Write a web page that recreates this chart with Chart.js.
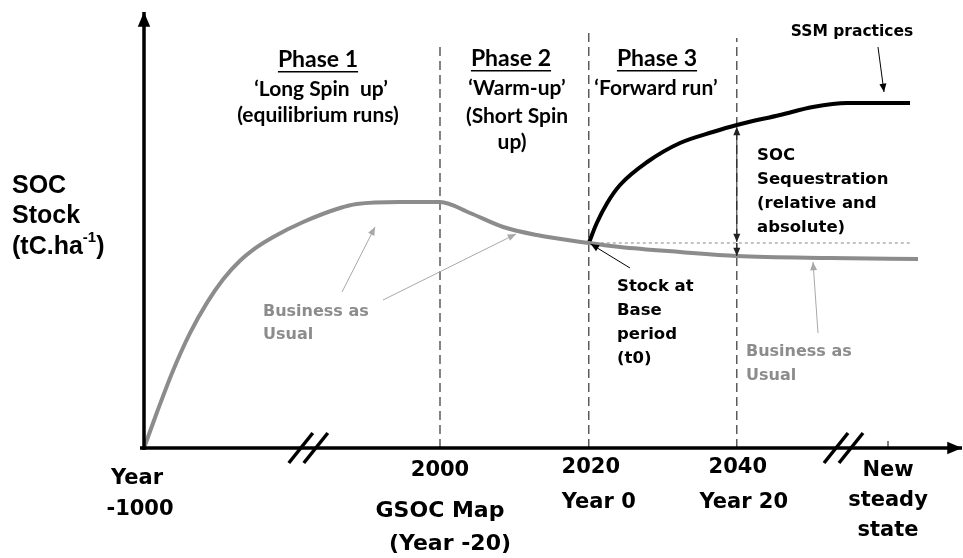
<!DOCTYPE html>
<html>
<head>
<meta charset="utf-8">
<script src="https://cdn.jsdelivr.net/npm/chart.js@4.4.1/dist/chart.umd.min.js"></script>
<style>
  html, body { margin: 0; padding: 0; background: #fff; }
  #wrap { width: 963px; height: 558px; }
</style>
</head>
<body>
<div id="wrap"><canvas id="myChart"></canvas></div>
<script>
// timeline units: 0 = Year -1000 ... ~96 = new steady state
const bauX = [0, 1.6, 3.6, 5.75, 7.9, 9.9, 12, 14.1, 16.1, 19.9, 24.5, 26.6, 32, 37, 40.75, 44.9, 49.1, 55.6, 59.5, 67, 74.1, 85.75, 96.75];
const bauY = [0, 8.8, 19.2, 28.7, 36.4, 42.2, 46.8, 50.2, 52.7, 56.5, 60, 61, 61.5, 61.5, 58.75, 55.25, 53.25, 51.25, 50.25, 49, 48, 47.5, 47.25];
const ssmX = [55.6, 56.6, 57.9, 59.5, 62.9, 67, 71.1, 74.1, 79.5, 83.6, 87.9, 95.75];
const ssmY = [51.25, 56.25, 61.25, 65.75, 71.5, 76.25, 79, 80.75, 83.25, 85.25, 86.25, 86.25];

// phase boundaries (2000, 2020, 2040) and top of their dashed lines
const phaseX = [37, 55.6, 74.1];
const phaseTop = [100.5, 105, 102.5];
const baseStock = 51.25;

const tickX = [0, 37, 55.6, 74.1, 93];
const tickLabels = [
  ['Year', '-1000'],
  ['2000', 'GSOC Map', '(Year -20)'],
  ['2020', 'Year 0'],
  ['2040', 'Year 20'],
  ['New', 'steady', 'state']
];
const breakX = [19.6, 86.5];

const GREY = '#8c8c8c';
const GOTHIC = '"DejaVu Sans"';

function toPoints(xs, ys) {
  return xs.map((x, i) => ({x: x, y: ys[i]}));
}

function arrow(ctx, x1, y1, x2, y2, opt) {
  const o = Object.assign({color: '#000', width: 1, head: 8, start: false, end: true}, opt);
  ctx.save();
  ctx.strokeStyle = o.color;
  ctx.fillStyle = o.color;
  ctx.lineWidth = o.width;
  ctx.beginPath();
  ctx.moveTo(x1, y1);
  ctx.lineTo(x2, y2);
  ctx.stroke();
  const heads = [];
  if (o.end) heads.push([x2, y2, Math.atan2(y2 - y1, x2 - x1)]);
  if (o.start) heads.push([x1, y1, Math.atan2(y1 - y2, x1 - x2)]);
  for (const [hx, hy, a] of heads) {
    ctx.beginPath();
    ctx.moveTo(hx, hy);
    ctx.lineTo(hx - o.head * Math.cos(a - 0.4), hy - o.head * Math.sin(a - 0.4));
    ctx.lineTo(hx - o.head * Math.cos(a + 0.4), hy - o.head * Math.sin(a + 0.4));
    ctx.closePath();
    ctx.fill();
  }
  ctx.restore();
}

function text(ctx, str, x, y, font, color, align) {
  ctx.font = font;
  ctx.fillStyle = color || '#000';
  ctx.textAlign = align || 'left';
  ctx.textBaseline = 'middle';
  ctx.fillText(str, x, y);
}

function underlined(ctx, str, x, y, font) {
  text(ctx, str, x, y, font, '#000', 'center');
  const w = ctx.measureText(str).width;
  ctx.fillRect(x - w / 2, y + 11, w, 1.5);
}

const overlay = {
  id: 'overlay',
  beforeDatasetsDraw(chart) {
    const ctx = chart.ctx, sx = chart.scales.x, sy = chart.scales.y;
    ctx.save();
    // phase boundaries
    ctx.strokeStyle = '#333';
    ctx.lineWidth = 1.2;
    ctx.setLineDash([9, 5]);
    phaseX.forEach((v, i) => {
      ctx.beginPath();
      ctx.moveTo(sx.getPixelForValue(v), sy.getPixelForValue(0));
      ctx.lineTo(sx.getPixelForValue(v), sy.getPixelForValue(phaseTop[i]));
      ctx.stroke();
    });
    // base period reference
    ctx.strokeStyle = '#888';
    ctx.lineWidth = 1;
    ctx.setLineDash([3, 3]);
    ctx.beginPath();
    ctx.moveTo(sx.getPixelForValue(phaseX[1]), sy.getPixelForValue(baseStock));
    ctx.lineTo(sx.getPixelForValue(95.75), sy.getPixelForValue(baseStock));
    ctx.stroke();
    ctx.restore();
  },
  afterDatasetsDraw(chart) {
    const ctx = chart.ctx, sx = chart.scales.x, sy = chart.scales.y;
    const x0 = sx.getPixelForValue(0), y0 = sy.getPixelForValue(0);
    ctx.save();

    // axes
    arrow(ctx, x0, y0 + 2, x0, 12, {width: 3.5, head: 16});
    arrow(ctx, x0 - 4, y0, 962, y0, {width: 3.5, head: 16});

    // axis breaks
    ctx.strokeStyle = '#000';
    ctx.lineWidth = 3.5;
    breakX.forEach(v => {
      const bx = sx.getPixelForValue(v);
      [0, 15].forEach(d => {
        ctx.beginPath();
        ctx.moveTo(bx - 12 + d, y0 + 15);
        ctx.lineTo(bx + 12 + d, y0 - 15);
        ctx.stroke();
      });
    });
    ctx.lineWidth = 1;
    ctx.beginPath();
    ctx.moveTo(sx.getPixelForValue(tickX[4]), y0);
    ctx.lineTo(sx.getPixelForValue(tickX[4]), y0 - 7);
    ctx.stroke();

    // tick labels
    const tf = 'bold 21px ' + GOTHIC;
    const firstY = [31, 23, 20, 20, 23];
    const lineH = [31, 40, 35, 35, 30];
    const dx = [[-7, -4], [0, 0, 10], [2, 10], [1, 7], [0, 0, 0]];
    tickLabels.forEach((lines, i) => {
      lines.forEach((s, j) => {
        let yy = y0 + firstY[i] + j * lineH[i];
        if (i === 1 && j === 2) yy -= 7;
        const f = (i === 1 && j > 0) ? 'bold 22px ' + GOTHIC : tf;
        text(ctx, s, sx.getPixelForValue(tickX[i]) + dx[i][j], yy, f, '#000', 'center');
      });
    });

    // y axis title
    const af = 'bold 25px "Liberation Sans"';
    text(ctx, 'SOC', 12, 186, af);
    text(ctx, 'Stock', 12, 216, af);
    text(ctx, '(tC.ha', 12, 247, af);
    let w = ctx.measureText('(tC.ha').width;
    text(ctx, '-1', 12 + w, 238, 'bold 15px "Liberation Sans"');
    let w2 = ctx.measureText('-1').width;
    text(ctx, ')', 12 + w + w2, 247, af);

    // phase headings
    const hf = 'bold 23px Lato', sf = 'bold 21px Lato';
    underlined(ctx, 'Phase 1', 318, 60, hf);
    text(ctx, '\u2018Long Spin  up\u2019', 321, 89, sf, '#000', 'center');
    text(ctx, '(equilibrium runs)', 318, 115, sf, '#000', 'center');
    underlined(ctx, 'Phase 2', 511, 59, hf);
    text(ctx, '\u2018Warm-up\u2019', 517, 88, sf, '#000', 'center');
    text(ctx, '(Short Spin', 517, 116, sf, '#000', 'center');
    text(ctx, 'up)', 512, 142, sf, '#000', 'center');
    underlined(ctx, 'Phase 3', 657, 59, hf);
    text(ctx, '\u2018Forward run\u2019', 656, 88, sf, '#000', 'center');

    // SSM label and arrow
    text(ctx, 'SSM practices', 852, 32, 'bold 15.5px ' + GOTHIC, '#000', 'center');
    arrow(ctx, 878, 47, 884, 92, {head: 9});

    // sequestration arrows
    const ax = sx.getPixelForValue(phaseX[2]);
    const ssmAt = sy.getPixelForValue(80.75), baseAt = sy.getPixelForValue(baseStock), bauAt = sy.getPixelForValue(48);
    arrow(ctx, ax, ssmAt + 2, ax, baseAt - 1, {start: true, head: 9, color: '#222'});
    arrow(ctx, ax, baseAt, ax, bauAt, {head: 9, color: '#222'});
    const qf = 'bold 16.5px ' + GOTHIC;
    text(ctx, 'SOC', 757, 156, qf);
    text(ctx, 'Sequestration', 757, 180, qf);
    text(ctx, '(relative and', 757, 204, qf);
    text(ctx, 'absolute)', 757, 228, qf);

    // base period label
    const bx = sx.getPixelForValue(phaseX[1]);
    arrow(ctx, 630, 268, bx + 2, baseAt + 1, {head: 9});
    text(ctx, 'Stock at', 617, 287, qf);
    text(ctx, 'Base', 617, 311, qf);
    text(ctx, 'period', 617, 335, qf);
    text(ctx, '(t0)', 617, 359, qf);

    // business as usual labels
    const gf = 'bold 16px ' + GOTHIC;
    text(ctx, 'Business as', 263, 312, gf, GREY);
    text(ctx, 'Usual', 263, 335, gf, GREY);
    text(ctx, 'Business as', 746, 352, gf, GREY);
    text(ctx, 'Usual', 746, 376, gf, GREY);
    arrow(ctx, 342, 292, 375, 227, {color: '#a8a8a8', head: 9});
    arrow(ctx, 383, 300, 516, 234, {color: '#a8a8a8', head: 9});
    arrow(ctx, 818, 333, 813, 262, {color: '#a8a8a8', head: 9});

    ctx.restore();
  }
};

const chart = new Chart(document.getElementById('myChart'), {
  type: 'line',
  data: {
    datasets: [
      {
        label: 'Business as Usual',
        data: toPoints(bauX, bauY),
        borderColor: GREY,
        borderWidth: 4,
        pointRadius: 0,
        cubicInterpolationMode: 'monotone',
        fill: false
      },
      {
        label: 'SSM practices',
        data: toPoints(ssmX, ssmY),
        borderColor: '#000',
        borderWidth: 4,
        pointRadius: 0,
        cubicInterpolationMode: 'monotone',
        fill: false
      }
    ]
  },
  options: {
    responsive: true,
    maintainAspectRatio: false,
    animation: false,
    events: [],
    layout: {padding: {left: 144, right: 3, top: 8, bottom: 110}},
    plugins: {legend: {display: false}, tooltip: {enabled: false}},
    scales: {
      x: {type: 'linear', min: 0, max: 102, display: false},
      y: {type: 'linear', min: 0, max: 110, display: false}
    }
  },
  plugins: [overlay]
});
</script>
</body>
</html>
